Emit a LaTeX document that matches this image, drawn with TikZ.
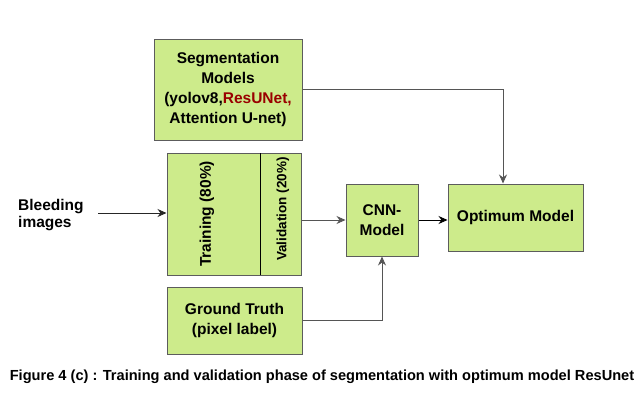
\documentclass[tikz,border=0pt]{standalone}
\usepackage{fontspec}
\setmainfont{Liberation Sans}
\usetikzlibrary{arrows.meta,calc}
\definecolor{boxfill}{HTML}{CDEB8B}
\definecolor{boxline}{HTML}{5C5C5C}
\definecolor{resred}{HTML}{990000}
\definecolor{greyline}{HTML}{555555}
\begin{document}
\begin{tikzpicture}[x=1pt,y=-1pt,
  box/.style={draw=boxline,fill=boxfill,line width=1pt,inner sep=0pt,align=center,
    font=\fontsize{15.5}{20}\selectfont\bfseries},
  arr/.style={-{Stealth[length=9pt,width=8pt]},line width=0.9pt},
  lbl/.style={font=\fontsize{15.5}{17}\selectfont\bfseries,align=left,inner sep=0pt}]
\useasboundingbox (0,0) rectangle (644,402);
\node[box,minimum width=148pt,minimum height=101pt] (seg) at (228,89.5)
  {Segmentation\\Models\\(yolov8,\textcolor{resred}{ResUNet,}\\Attention U-net)};
\node[box,minimum width=134pt,minimum height=122pt] (train) at (234,214) {};
\draw[black,line width=0.9pt] (260,153) -- (260,275);
\node[font=\fontsize{15.5}{18}\selectfont\bfseries,rotate=90,inner sep=0pt] (traintxt) at (207,214) {Training (80\%)};
\node[font=\fontsize{13.5}{16}\selectfont\bfseries,rotate=90,inner sep=0pt] (valtxt) at (283,209) {Validation (20\%)};
\node[box,minimum width=72pt,minimum height=72pt] (cnn) at (382,220) {CNN-\\Model};
\node[box,minimum width=135pt,minimum height=67pt] (opt) at (515.5,217.5) {Optimum Model};
\node[box,minimum width=135pt,minimum height=67pt] (gt) at (234.5,320.5) {Ground Truth\\(pixel label)};
\node[lbl,anchor=west] (bleed) at (18,215) {Bleeding\\images};
\coordinate (bstart) at (98,213);
\draw[arr,black!85] (bstart) -- (bstart -| train.west);
\draw[arr,greyline] (train.east |- cnn.west) -- (cnn.west);
\draw[arr,black] (cnn.east) -- (cnn.east -| opt.west);
\draw[arr,greyline] (gt.east) -| (cnn.south);
\coordinate (optin) at ($(opt.north)+(-12.5,0)$);
\draw[arr,greyline] (seg.east) -| (optin);
\node[font=\fontsize{14.6}{16}\selectfont\bfseries,inner sep=0pt] (cap) at (322,377)
  {Figure 4 (c) : Training and validation phase of segmentation with optimum model ResUnet};
\end{tikzpicture}
\end{document}
